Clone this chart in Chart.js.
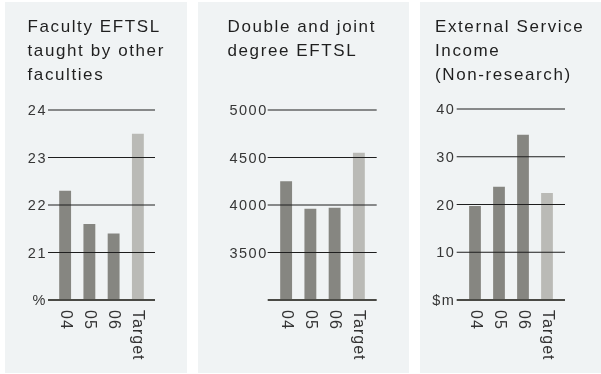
<!DOCTYPE html>
<html>
<head>
<meta charset="utf-8">
<script src="https://cdn.jsdelivr.net/npm/chart.js@4.4.1/dist/chart.umd.min.js"></script>
<style>
  html, body { margin: 0; padding: 0; background: #ffffff; }
  body { width: 601px; height: 374px; position: relative; overflow: hidden;
         font-family: "Liberation Sans", Arial, Helvetica, sans-serif; }
  .panel { position: absolute; top: 2px; height: 371px; background: #f0f3f4; }
  .panel canvas { position: absolute; left: 0; top: 0; }
  .title { position: absolute; top: 12.5px; font-size: 17px; line-height: 24.2px;
           letter-spacing: 1.6px; color: #1f1f1f; white-space: nowrap; }
</style>
</head>
<body>
<div class="panel" style="left:5px;width:182px">
  <canvas id="c1" width="182" height="371"></canvas>
  <div class="title" id="t1" style="left:22.5px"></div>
</div>
<div class="panel" style="left:198px;width:211px">
  <canvas id="c2" width="211" height="371"></canvas>
  <div class="title" id="t2" style="left:29.5px"></div>
</div>
<div class="panel" style="left:420px;width:181px">
  <canvas id="c3" width="181" height="371"></canvas>
  <div class="title" id="t3" style="left:15px"></div>
</div>
<script>
// Reporting periods shared by all three panels
const periods = ['04', '05', '06', 'Target'];

// Faculty EFTSL taught by other faculties (%)
const otherFacultyTitle = ['Faculty EFTSL', 'taught by other', 'faculties'];
const otherFacultyValues = [22.3, 21.6, 21.4, 23.5];
const otherFacultyTicks = [20, 21, 22, 23, 24];
const otherFacultyTickLabels = ['%', '21', '22', '23', '24'];

// Double and joint degree EFTSL
const jointDegreeTitle = ['Double and joint', 'degree EFTSL'];
const jointDegreeValues = [4250, 3960, 3970, 4550];
const jointDegreeTicks = [3000, 3500, 4000, 4500, 5000];
const jointDegreeTickLabels = ['', '3500', '4000', '4500', '5000'];

// External service income, non-research ($m)
const serviceIncomeTitle = ['External Service', 'Income', '(Non-research)'];
const serviceIncomeValues = [19.7, 23.7, 34.6, 22.4];
const serviceIncomeTicks = [0, 10, 20, 30, 40];
const serviceIncomeTickLabels = ['$m', '10', '20', '30', '40'];

const FONT = '"Liberation Sans", Arial, Helvetica, sans-serif';
const BAR_ACTUAL = '#868681';
const BAR_TARGET = '#babab6';

// Horizontal rules drawn over the bars, plus vertical period labels
const rulesAndLabels = {
  id: 'rulesAndLabels',
  beforeDraw(chart) {
    chart.ctx.letterSpacing = '1.5px';
  },
  afterDatasetsDraw(chart, args, opts) {
    const { ctx, chartArea: a, scales: { x, y } } = chart;
    ctx.save();
    y.ticks.forEach((t, i) => {
      const py = y.getPixelForValue(t.value);
      const base = i === 0;
      ctx.beginPath();
      ctx.strokeStyle = base ? '#4a4a45' : '#1e1e1e';
      ctx.lineWidth = base ? 2 : 1;
      ctx.moveTo(a.left - opts.extLeft, py);
      ctx.lineTo(a.right + opts.extRight, py);
      ctx.stroke();
    });
    ctx.letterSpacing = '1px';
    ctx.font = '16px ' + FONT;
    ctx.fillStyle = '#333333';
    ctx.textAlign = 'left';
    ctx.textBaseline = 'middle';
    chart.data.labels.forEach((lab, i) => {
      ctx.save();
      ctx.translate(x.getPixelForValue(i), a.bottom + 10);
      ctx.rotate(Math.PI / 2);
      ctx.fillText(lab, 0, 0);
      ctx.restore();
    });
    ctx.restore();
  }
};

function setTitle(id, lines) {
  const el = document.getElementById(id);
  lines.forEach((line, i) => {
    if (i) el.appendChild(document.createElement('br'));
    el.appendChild(document.createTextNode(line));
  });
}

function makePanel(canvasId, values, ticks, tickLabels, layout) {
  const min = ticks[0];
  const max = ticks[ticks.length - 1];
  const step = ticks[1] - ticks[0];
  return new Chart(document.getElementById(canvasId), {
    type: 'bar',
    data: {
      labels: periods,
      datasets: [{
        data: values,
        backgroundColor: [BAR_ACTUAL, BAR_ACTUAL, BAR_ACTUAL, BAR_TARGET],
        borderWidth: 0,
        barPercentage: 0.49,
        categoryPercentage: 1
      }]
    },
    options: {
      responsive: false,
      devicePixelRatio: 1,
      animation: false,
      events: [],
      layout: { padding: { left: 0, right: layout.right, top: layout.top, bottom: 73 } },
      plugins: {
        legend: { display: false },
        title: { display: false },
        tooltip: { enabled: false },
        rulesAndLabels: { extLeft: layout.extLeft, extRight: layout.extRight }
      },
      scales: {
        x: {
          grid: { display: false, drawTicks: false },
          border: { display: false },
          ticks: { display: false }
        },
        y: {
          min: min,
          max: max,
          grid: { display: false, drawTicks: false },
          border: { display: false },
          ticks: {
            stepSize: step,
            padding: layout.labelPad,
            labelOffset: 1,
            color: '#363636',
            font: { family: FONT, size: 14.5 },
            callback: (v) => {
              const idx = ticks.indexOf(v);
              return idx >= 0 ? tickLabels[idx] : '';
            }
          },
          afterFit(scale) { scale.width = layout.areaLeft; }
        }
      }
    },
    plugins: [rulesAndLabels]
  });
}

setTitle('t1', otherFacultyTitle);
setTitle('t2', jointDegreeTitle);
setTitle('t3', serviceIncomeTitle);

makePanel('c1', otherFacultyValues, otherFacultyTicks, otherFacultyTickLabels,
  { areaLeft: 48, right: 37, top: 108, labelPad: 6, extLeft: 5, extRight: 5 });
makePanel('c2', jointDegreeValues, jointDegreeTicks, jointDegreeTickLabels,
  { areaLeft: 76, right: 38, top: 108, labelPad: 6.3, extLeft: 6.3, extRight: 5.7 });
makePanel('c3', serviceIncomeValues, serviceIncomeTicks, serviceIncomeTickLabels,
  { areaLeft: 43, right: 42, top: 107, labelPad: 7.7, extLeft: 6.3, extRight: 6 });
</script>
</body>
</html>
